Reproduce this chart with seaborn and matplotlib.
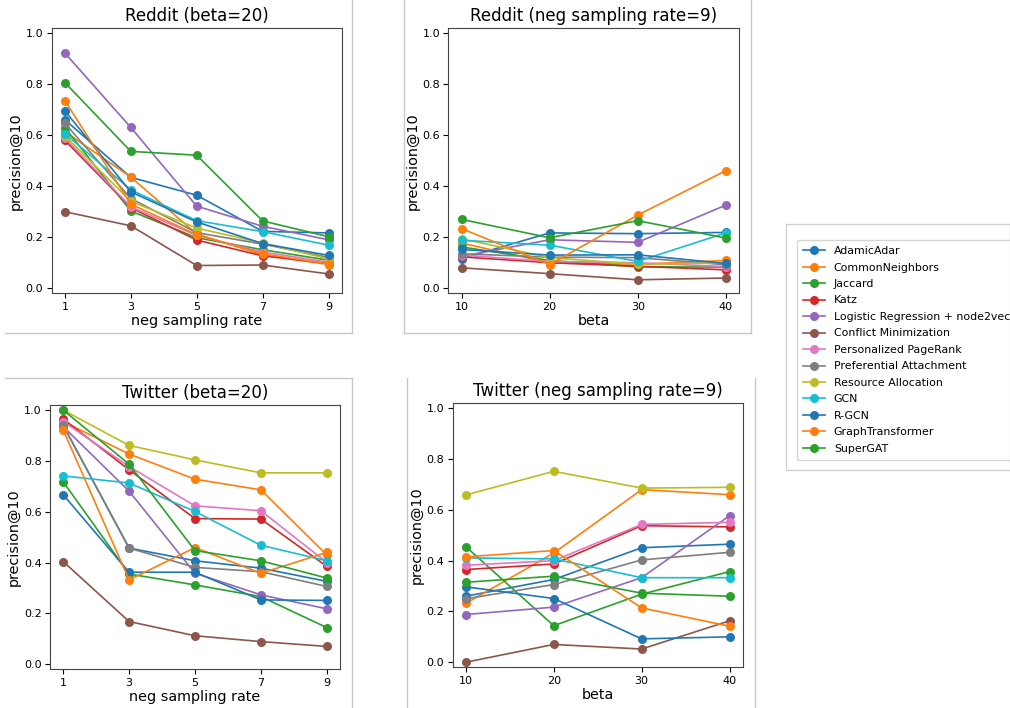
import matplotlib
matplotlib.use("Agg")
import matplotlib.pyplot as plt
from matplotlib.lines import Line2D
from matplotlib.patches import Rectangle
import pandas as pd
import seaborn as sns

methods = ["AdamicAdar", "CommonNeighbors", "Jaccard", "Katz",
           "Logistic Regression + node2vec", "Conflict Minimization",
           "Personalized PageRank", "Preferential Attachment",
           "Resource Allocation", "GCN", "R-GCN", "GraphTransformer", "SuperGAT"]

neg_rates = [1, 3, 5, 7, 9]
betas = [10, 20, 30, 40]

# precision@10, one row per method (same order as methods)
reddit_by_neg = [
    [0.661, 0.435, 0.365, 0.223, 0.217],
    [0.614, 0.436, 0.213, 0.131, 0.093],
    [0.630, 0.303, 0.198, 0.151, 0.110],
    [0.580, 0.316, 0.189, 0.127, 0.097],
    [0.923, 0.631, 0.322, 0.243, 0.190],
    [0.300, 0.245, 0.089, 0.091, 0.056],
    [0.590, 0.319, 0.207, 0.142, 0.102],
    [0.647, 0.352, 0.218, 0.173, 0.121],
    [0.598, 0.341, 0.236, 0.177, 0.115],
    [0.607, 0.386, 0.265, 0.222, 0.169],
    [0.696, 0.378, 0.260, 0.175, 0.129],
    [0.736, 0.330, 0.210, 0.135, 0.095],
    [0.807, 0.537, 0.522, 0.264, 0.202],
]

reddit_by_beta = [
    [0.116, 0.217, 0.214, 0.219],
    [0.177, 0.100, 0.094, 0.109],
    [0.162, 0.109, 0.084, 0.083],
    [0.123, 0.100, 0.086, 0.072],
    [0.125, 0.190, 0.180, 0.326],
    [0.080, 0.057, 0.033, 0.040],
    [0.130, 0.105, 0.100, 0.085],
    [0.135, 0.122, 0.120, 0.092],
    [0.194, 0.120, 0.094, 0.100],
    [0.188, 0.169, 0.105, 0.217],
    [0.152, 0.130, 0.131, 0.097],
    [0.234, 0.093, 0.287, 0.461],
    [0.270, 0.198, 0.265, 0.197],
]

twitter_by_neg = [
    [0.940, 0.457, 0.407, 0.378, 0.326],
    [0.955, 0.827, 0.728, 0.686, 0.430],
    [0.718, 0.355, 0.312, 0.266, 0.144],
    [0.965, 0.765, 0.573, 0.571, 0.385],
    [0.935, 0.681, 0.358, 0.273, 0.218],
    [0.404, 0.168, 0.112, 0.089, 0.070],
    [0.955, 0.778, 0.623, 0.604, 0.400],
    [0.940, 0.457, 0.381, 0.364, 0.306],
    [1.000, 0.861, 0.804, 0.753, 0.753],
    [0.741, 0.713, 0.601, 0.468, 0.407],
    [0.667, 0.362, 0.362, 0.253, 0.251],
    [0.922, 0.332, 0.459, 0.358, 0.440],
    [1.000, 0.787, 0.447, 0.407, 0.339],
]

twitter_by_beta = [
    [0.260, 0.326, 0.451, 0.465],
    [0.232, 0.430, 0.680, 0.660],
    [0.455, 0.144, 0.268, 0.357],
    [0.365, 0.387, 0.538, 0.533],
    [0.188, 0.217, 0.333, 0.577],
    [0.000, 0.070, 0.052, 0.163],
    [0.382, 0.400, 0.543, 0.551],
    [0.250, 0.306, 0.403, 0.433],
    [0.659, 0.752, 0.686, 0.689],
    [0.411, 0.407, 0.333, 0.333],
    [0.297, 0.251, 0.092, 0.100],
    [0.415, 0.440, 0.214, 0.142],
    [0.315, 0.339, 0.272, 0.260],
]

tab10 = sns.color_palette("tab10")
palette = [tab10[i % 10] for i in range(len(methods))]


def long_form(xs, table):
    rows = []
    for m, vals in zip(methods, table):
        for x, v in zip(xs, vals):
            rows.append({"x": x, "precision": v, "method": m})
    return pd.DataFrame(rows)


W, H = 1010, 708
fig = plt.figure(figsize=(W / 100, H / 100), dpi=100)


def px_axes(left, top, right, bottom):
    return fig.add_axes([left / W, 1 - bottom / H, (right - left) / W, (bottom - top) / H])


panels = [
    (px_axes(51.7, 28.3, 341.7, 293.3), neg_rates, reddit_by_neg, "Reddit (beta=20)", "neg sampling rate"),
    (px_axes(448.3, 28.3, 739.0, 293.3), betas, reddit_by_beta, "Reddit (neg sampling rate=9)", "beta"),
    (px_axes(50.0, 405.0, 340.0, 669.3), neg_rates, twitter_by_neg, "Twitter (beta=20)", "neg sampling rate"),
    (px_axes(452.7, 403.3, 742.7, 667.3), betas, twitter_by_beta, "Twitter (neg sampling rate=9)", "beta"),
]

for ax, xs, table, title, xlabel in panels:
    df = long_form(xs, table)
    sns.lineplot(data=df, x="x", y="precision", hue="method", hue_order=methods,
                 palette=palette, marker="o", markersize=6.5, markeredgewidth=0,
                 linewidth=1.2, legend=False, ax=ax)
    ax.set_xticks(xs)
    ax.set_yticks([0.0, 0.2, 0.4, 0.6, 0.8, 1.0])
    ax.set_ylim(-0.02, 1.02)
    ax.tick_params(labelsize=8, pad=2.5)
    ax.set_title(title, fontsize=12, pad=5)
    ax.set_xlabel(xlabel, fontsize=10.4, labelpad=1.5)
    ax.set_ylabel("precision@10", fontsize=10.4, labelpad=2)
    for s in ax.spines.values():
        s.set_edgecolor("#444444")

# legend from the first panel's lines
fig.legend(panels[0][0].lines[:len(methods)], methods, loc="upper left",
           bbox_to_anchor=(797 / W, 1 - 240 / H), fontsize=7.9, frameon=True,
           borderpad=0.55, labelspacing=0.59, borderaxespad=0)

# light frames of the pasted panels
border = "#c8c8c8"
segs = [
    ((352, 0), (352, 333)), ((5, 333), (352, 333)),
    ((404, 0), (404, 333)), ((404, 333), (751, 333)), ((751, 0), (751, 333)),
    ((5, 378), (352, 378)), ((352, 378), (352, 708)),
    ((407, 378), (407, 708)), ((755, 378), (755, 708)),
]
for (x0, y0), (x1, y1) in segs:
    fig.add_artist(Line2D([x0 / W, x1 / W], [1 - y0 / H, 1 - y1 / H],
                          transform=fig.transFigure, color=border, linewidth=1))
fig.add_artist(Rectangle((786 / W, 1 - 470 / H), (1010 - 786) / W, (470 - 224) / H,
                         transform=fig.transFigure, fill=False, edgecolor="#d0d0d0", linewidth=1))

fig.savefig("out.png", dpi=100)
